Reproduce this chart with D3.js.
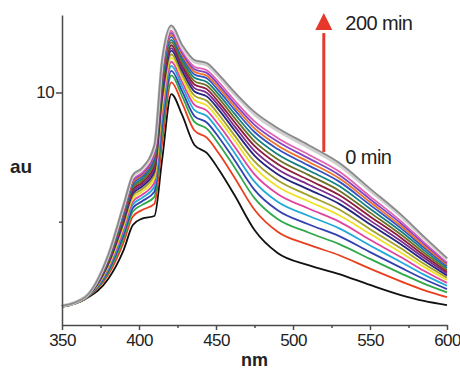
<!DOCTYPE html>
<html>
<head>
<meta charset="utf-8">
<script src="https://cdn.jsdelivr.net/npm/d3@7"></script>
<style>
  body { margin: 0; background: #fff; }
  svg { display: block; font-family: 'Liberation Sans', Arial, sans-serif; }
</style>
</head>
<body>
<div id="chart"></div>
<script>
// wavelength grid (nm) shared by every spectrum
const wavelengths = [350, 365, 380, 390, 396, 402, 410, 415, 421, 428, 436, 444, 452, 462, 475, 490, 510, 530, 550, 570, 585, 600]

// emission spectra, 0 min (first) to 200 min (last)
const spectra = [
  [1.70, 2.00, 2.78, 3.90, 4.87, 5.12, 5.22, 7.39, 9.94, 9.13, 7.97, 7.66, 7.00, 6.03, 4.68, 3.79, 3.32, 2.97, 2.55, 2.16, 1.93, 1.77],
  [1.71, 2.01, 2.94, 4.20, 5.20, 5.45, 5.69, 8.05, 10.39, 9.59, 8.53, 8.25, 7.63, 6.71, 5.46, 4.61, 4.11, 3.70, 3.18, 2.69, 2.35, 2.08],
  [1.71, 2.02, 3.03, 4.37, 5.39, 5.65, 5.96, 8.44, 10.66, 9.86, 8.86, 8.60, 7.99, 7.11, 5.91, 5.10, 4.58, 4.13, 3.56, 3.00, 2.60, 2.26],
  [1.71, 2.03, 3.10, 4.50, 5.53, 5.79, 6.16, 8.71, 10.84, 10.05, 9.09, 8.84, 8.25, 7.39, 6.23, 5.44, 4.90, 4.44, 3.82, 3.22, 2.78, 2.39],
  [1.72, 2.03, 3.16, 4.62, 5.67, 5.92, 6.35, 8.98, 11.03, 10.24, 9.32, 9.09, 8.51, 7.67, 6.55, 5.77, 5.23, 4.74, 4.08, 3.44, 2.95, 2.52],
  [1.72, 2.04, 3.22, 4.72, 5.78, 6.04, 6.51, 9.21, 11.19, 10.40, 9.52, 9.30, 8.73, 7.91, 6.83, 6.07, 5.51, 5.00, 4.30, 3.63, 3.10, 2.63],
  [1.72, 2.04, 3.27, 4.83, 5.90, 6.16, 6.68, 9.44, 11.35, 10.57, 9.71, 9.50, 8.95, 8.15, 7.10, 6.36, 5.79, 5.25, 4.53, 3.81, 3.25, 2.74],
  [1.72, 2.05, 3.32, 4.92, 6.00, 6.26, 6.82, 9.64, 11.48, 10.70, 9.88, 9.68, 9.13, 8.34, 7.33, 6.60, 6.02, 5.47, 4.71, 3.97, 3.37, 2.83],
  [1.73, 2.05, 3.37, 5.00, 6.09, 6.36, 6.95, 9.83, 11.62, 10.84, 10.04, 9.85, 9.32, 8.54, 7.56, 6.84, 6.25, 5.69, 4.90, 4.13, 3.50, 2.92],
  [1.73, 2.05, 3.40, 5.07, 6.17, 6.43, 7.06, 9.98, 11.72, 10.95, 10.17, 9.99, 9.47, 8.70, 7.74, 7.03, 6.44, 5.86, 5.05, 4.25, 3.60, 2.99],
  [1.73, 2.06, 3.44, 5.14, 6.25, 6.51, 7.17, 10.14, 11.83, 11.05, 10.31, 10.13, 9.61, 8.86, 7.93, 7.23, 6.62, 6.03, 5.20, 4.38, 3.70, 3.06],
  [1.73, 2.06, 3.48, 5.21, 6.33, 6.59, 7.28, 10.29, 11.94, 11.16, 10.44, 10.27, 9.76, 9.02, 8.11, 7.42, 6.81, 6.20, 5.35, 4.50, 3.80, 3.14],
  [1.73, 2.06, 3.52, 5.28, 6.40, 6.67, 7.39, 10.45, 12.04, 11.27, 10.57, 10.41, 9.91, 9.18, 8.29, 7.61, 6.99, 6.38, 5.50, 4.63, 3.90, 3.21],
  [1.73, 2.07, 3.55, 5.35, 6.48, 6.75, 7.50, 10.60, 12.15, 11.38, 10.70, 10.55, 10.05, 9.34, 8.47, 7.81, 7.18, 6.55, 5.65, 4.75, 4.00, 3.28],
  [1.73, 2.07, 3.58, 5.41, 6.54, 6.81, 7.59, 10.72, 12.23, 11.46, 10.80, 10.65, 10.17, 9.46, 8.61, 7.95, 7.32, 6.68, 5.76, 4.84, 4.07, 3.34],
  [1.74, 2.07, 3.61, 5.46, 6.60, 6.86, 7.67, 10.83, 12.31, 11.54, 10.90, 10.76, 10.28, 9.58, 8.75, 8.10, 7.46, 6.81, 5.87, 4.94, 4.15, 3.39],
  [1.74, 2.07, 3.64, 5.51, 6.66, 6.92, 7.75, 10.95, 12.39, 11.62, 11.00, 10.86, 10.39, 9.70, 8.88, 8.24, 7.60, 6.94, 5.98, 5.03, 4.22, 3.44],
  [1.74, 2.08, 3.66, 5.56, 6.71, 6.98, 7.83, 11.07, 12.47, 11.71, 11.10, 10.97, 10.50, 9.82, 9.02, 8.39, 7.74, 7.07, 6.09, 5.12, 4.30, 3.50],
  [1.74, 2.08, 3.69, 5.62, 6.77, 7.04, 7.92, 11.18, 12.55, 11.79, 11.19, 11.07, 10.61, 9.94, 9.16, 8.53, 7.88, 7.19, 6.21, 5.22, 4.37, 3.55],
  [1.74, 2.08, 3.71, 5.65, 6.81, 7.08, 7.97, 11.26, 12.60, 11.84, 11.26, 11.14, 10.68, 10.02, 9.25, 8.63, 7.97, 7.28, 6.28, 5.28, 4.42, 3.59]
]

// Origin-style colour cycle, one per spectrum
const lineColors = ['#111111', '#ea3f1e', '#2fa84a', '#3342b0', '#22a9d9', '#e0449e', '#efe02a', '#a2a02a',
  '#24257e', '#7b2c8f', '#8c1c3c', '#6f7024', '#138181', '#3253c2', '#f07328', '#8444c2', '#e261b2',
  '#ffffff', '#cfcfcf', '#8a8a8a']

const xTicks = [350, 400, 450, 500, 550, 600]
const xMinorTicks = [375, 425, 475, 525, 575]
const yTicks = [10]
const yMinorTicks = [5]

const width = 460
const height = 371
const margin = { top: 15, right: 13, bottom: 46, left: 62 }

const svg = d3.select('#chart')
  .append('svg')
  .attr('width', width)
  .attr('height', height)

const xScale = d3.scaleLinear()
  .domain([350, 600])
  .range([margin.left, width - margin.right])

const yScale = d3.scaleLinear()
  .domain([1, 13])
  .range([height - margin.bottom, margin.top])

const line = d3.line()
  .x((d, i) => xScale(wavelengths[i]))
  .y(d => yScale(d))
  .curve(d3.curveMonotoneX)

svg.append('g')
  .attr('class', 'spectra')
  .selectAll('path')
  .data(spectra)
  .enter().append('path')
  .attr('d', d => line(d))
  .attr('fill', 'none')
  .attr('stroke', (d, i) => lineColors[i])
  .attr('stroke-width', (d, i) => i === 18 ? 3.2 : 1.8)
  .attr('stroke-linejoin', 'round')

// x axis
svg.append('g')
  .attr('transform', `translate(0,${height - margin.bottom})`)
  .call(d3.axisBottom(xScale).tickValues(xTicks).tickSize(5).tickPadding(4).tickSizeOuter(0))
svg.append('g')
  .attr('transform', `translate(0,${height - margin.bottom})`)
  .call(d3.axisBottom(xScale).tickValues(xMinorTicks).tickSize(3).tickFormat('').tickSizeOuter(0))
  .select('.domain').remove()

// y axis
svg.append('g')
  .attr('transform', `translate(${margin.left},0)`)
  .call(d3.axisLeft(yScale).tickValues(yTicks).tickSize(6).tickPadding(2).tickSizeOuter(0))
svg.append('g')
  .attr('transform', `translate(${margin.left},0)`)
  .call(d3.axisLeft(yScale).tickValues(yMinorTicks).tickSize(3).tickFormat('').tickSizeOuter(0))
  .select('.domain').remove()

svg.selectAll('.domain, .tick line')
  .attr('stroke', '#4a4a4a')
  .attr('stroke-width', 1.5)

svg.selectAll('.tick text')
  .attr('fill', '#222')
  .style('font-size', '17px')
  .style('letter-spacing', '-0.6px')

// axis titles
svg.append('text')
  .attr('x', 10)
  .attr('y', 173)
  .attr('fill', '#222')
  .style('font-size', '19px')
  .style('font-weight', 'bold')
  .text('au')

svg.append('text')
  .attr('x', xScale(475))
  .attr('y', 366)
  .attr('text-anchor', 'middle')
  .attr('fill', '#222')
  .style('font-size', '18px')
  .style('font-weight', 'bold')
  .text('nm')

// time arrow annotation
const arrowX = xScale(520)
svg.append('line')
  .attr('x1', arrowX)
  .attr('x2', arrowX)
  .attr('y1', yScale(7.7))
  .attr('y2', yScale(12.3))
  .attr('stroke', '#e6392c')
  .attr('stroke-width', 3)

svg.append('path')
  .attr('d', `M${arrowX - 8.5},${yScale(12.42)} L${arrowX + 8.5},${yScale(12.42)} L${arrowX},${yScale(13.08)} Z`)
  .attr('fill', '#e6392c')

svg.append('text')
  .attr('x', xScale(534))
  .attr('y', yScale(12.42))
  .attr('fill', '#222')
  .style('font-size', '20px')
  .style('letter-spacing', '-0.6px')
  .text('200 min')

svg.append('text')
  .attr('x', xScale(534))
  .attr('y', yScale(7.25))
  .attr('fill', '#222')
  .style('font-size', '20px')
  .style('letter-spacing', '-0.6px')
  .text('0 min')
</script>
</body>
</html>
